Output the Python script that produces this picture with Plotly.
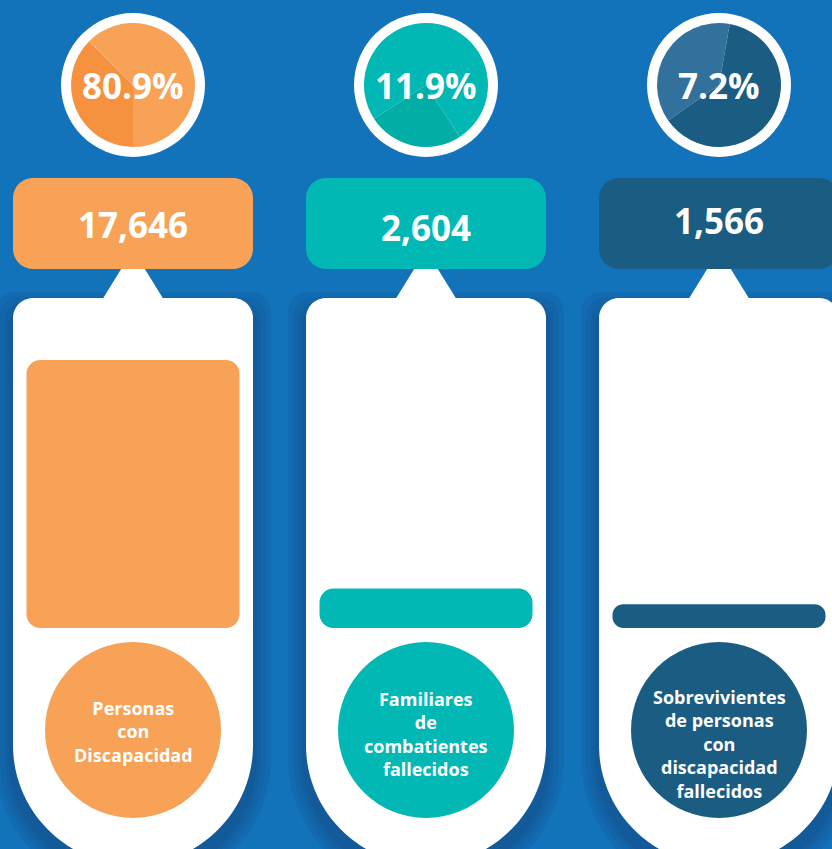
import plotly.graph_objects as go

groups = ["Personas<br>con<br>Discapacidad",
          "Familiares<br>de<br>combatientes<br>fallecidos",
          "Sobrevivientes<br>de personas<br>con<br>discapacidad<br>fallecidos"]
counts = [17646, 2604, 1566]
percents = [80.9, 11.9, 7.2]
# two-tone slice drawn inside each badge (share of the disc, %)
shade_share = [37.5, 25.0, 37.5]

W, H = 832, 849
BG = "#1272BA"
main_colors = ["#F7A257", "#02B8B4", "#1B5C82"]
shade_colors = ["#F5913F", "#00AEA6", "#32719C"]
shade_start = [180, 147, 235]

col_left = [13, 306, 599]
col_w = 240
centers = [l + col_w / 2 for l in col_left]
pie_y, pie_r, ring_r = 85, 62, 72
box_top, box_bot = 178, 269
count_y = [224, 227, 220]
card_top, card_yc = 298, 745
bar_base, bar_top = 628, 360
bar_w = 213
lab_y, lab_r = 730, 88
text_y = [731, 734, 744]
FONT = "Open Sans"
K = 0.5523


def rrect(l, t, r, b, rc):
    return (f"M {l},{t+rc} C {l},{t+rc-K*rc} {l+rc-K*rc},{t} {l+rc},{t} "
            f"L {r-rc},{t} C {r-rc+K*rc},{t} {r},{t+rc-K*rc} {r},{t+rc} "
            f"L {r},{b-rc} C {r},{b-rc+K*rc} {r-rc+K*rc},{b} {r-rc},{b} "
            f"L {l+rc},{b} C {l+rc-K*rc},{b} {l},{b-rc+K*rc} {l},{b-rc} Z")


def card(l, r, top, rc, yc, grow=0, dy=0):
    l, r, top, yc = l - grow, r + grow, top - grow + dy, yc + dy
    R = (r - l) / 2
    cx = (l + r) / 2
    return (f"M {l},{top+rc} C {l},{top+rc-K*rc} {l+rc-K*rc},{top} {l+rc},{top} "
            f"L {r-rc},{top} C {r-rc+K*rc},{top} {r},{top+rc-K*rc} {r},{top+rc} "
            f"L {r},{yc} C {r},{yc+K*R} {cx+K*R},{yc+R} {cx},{yc+R} "
            f"C {cx-K*R},{yc+R} {l},{yc+K*R} {l},{yc} Z")


fig = go.Figure()
shapes = []
ann = []

for i, cx in enumerate(centers):
    l, r = col_left[i], col_left[i] + col_w
    # soft shadow under the card
    for g in [18, 13, 8, 4]:
        shapes.append(dict(type="path", path=card(l, r, card_top, 20, card_yc, g, 12),
                           fillcolor="rgba(20,40,90,0.09)", line_width=0, layer="below"))
    shapes.append(dict(type="path", path=card(l, r, card_top, 20, card_yc),
                       fillcolor="white", line_width=0, layer="below"))
    # pointer
    shapes.append(dict(type="path",
                       path=f"M {cx-31},{card_top+2} L {cx-5},{258} Q {cx},{250} {cx+5},{258} L {cx+31},{card_top+2} Z",
                       fillcolor="white", line_width=0, layer="below"))
    # value box
    shapes.append(dict(type="path", path=rrect(l, box_top, r, box_bot, 20),
                       fillcolor=main_colors[i], line_width=0, layer="below"))
    # badge ring
    shapes.append(dict(type="circle", x0=cx - ring_r, x1=cx + ring_r,
                       y0=pie_y - ring_r, y1=pie_y + ring_r,
                       fillcolor="white", line_width=0, layer="below"))
    # label disc
    shapes.append(dict(type="circle", x0=cx - lab_r, x1=cx + lab_r,
                       y0=lab_y - lab_r, y1=lab_y + lab_r,
                       fillcolor=main_colors[i], line_width=0, layer="below"))

    fig.add_trace(go.Pie(
        values=[shade_share[i], 100 - shade_share[i]],
        marker=dict(colors=[shade_colors[i], main_colors[i]], line=dict(width=0)),
        sort=False, direction="clockwise", rotation=shade_start[i],
        textinfo="none", hoverinfo="skip", showlegend=False,
        domain=dict(x=[(cx - pie_r) / W, (cx + pie_r) / W],
                    y=[1 - (pie_y + pie_r) / H, 1 - (pie_y - pie_r) / H])))

    ann.append(dict(x=cx, y=pie_y, text=f"{percents[i]}%", showarrow=False,
                    font=dict(family=FONT, size=35, color="white", weight="bold")))
    ann.append(dict(x=cx, y=count_y[i], text=f"{counts[i]:,}", showarrow=False,
                    font=dict(family=FONT, size=35, color="white", weight="bold")))
    ann.append(dict(x=cx, y=text_y[i], text=groups[i], showarrow=False,
                    font=dict(family=FONT, size=18, color="white", weight="bold")))

fig.add_trace(go.Bar(
    x=centers, y=percents, base=[0] * len(percents), width=bar_w,
    marker=dict(color=main_colors, line=dict(width=0), cornerradius=14),
    yaxis="y2", hoverinfo="skip", showlegend=False))

fig.update_layout(
    width=W, height=H, margin=dict(l=0, r=0, t=0, b=0),
    paper_bgcolor=BG, plot_bgcolor="rgba(0,0,0,0)", barmode="overlay",
    xaxis=dict(range=[0, W], visible=False, fixedrange=True),
    yaxis=dict(range=[H, 0], visible=False, fixedrange=True),
    yaxis2=dict(range=[0, max(percents)], visible=False, anchor="x", fixedrange=True,
                domain=[(H - bar_base) / H, (H - bar_top) / H]),
    shapes=shapes, annotations=ann,
)
for a in fig.layout.annotations:
    a.xref, a.yref = "x", "y"

fig.write_html("out.html", config={"displayModeBar": False},
               post_script="document.body.style.margin='0';")
